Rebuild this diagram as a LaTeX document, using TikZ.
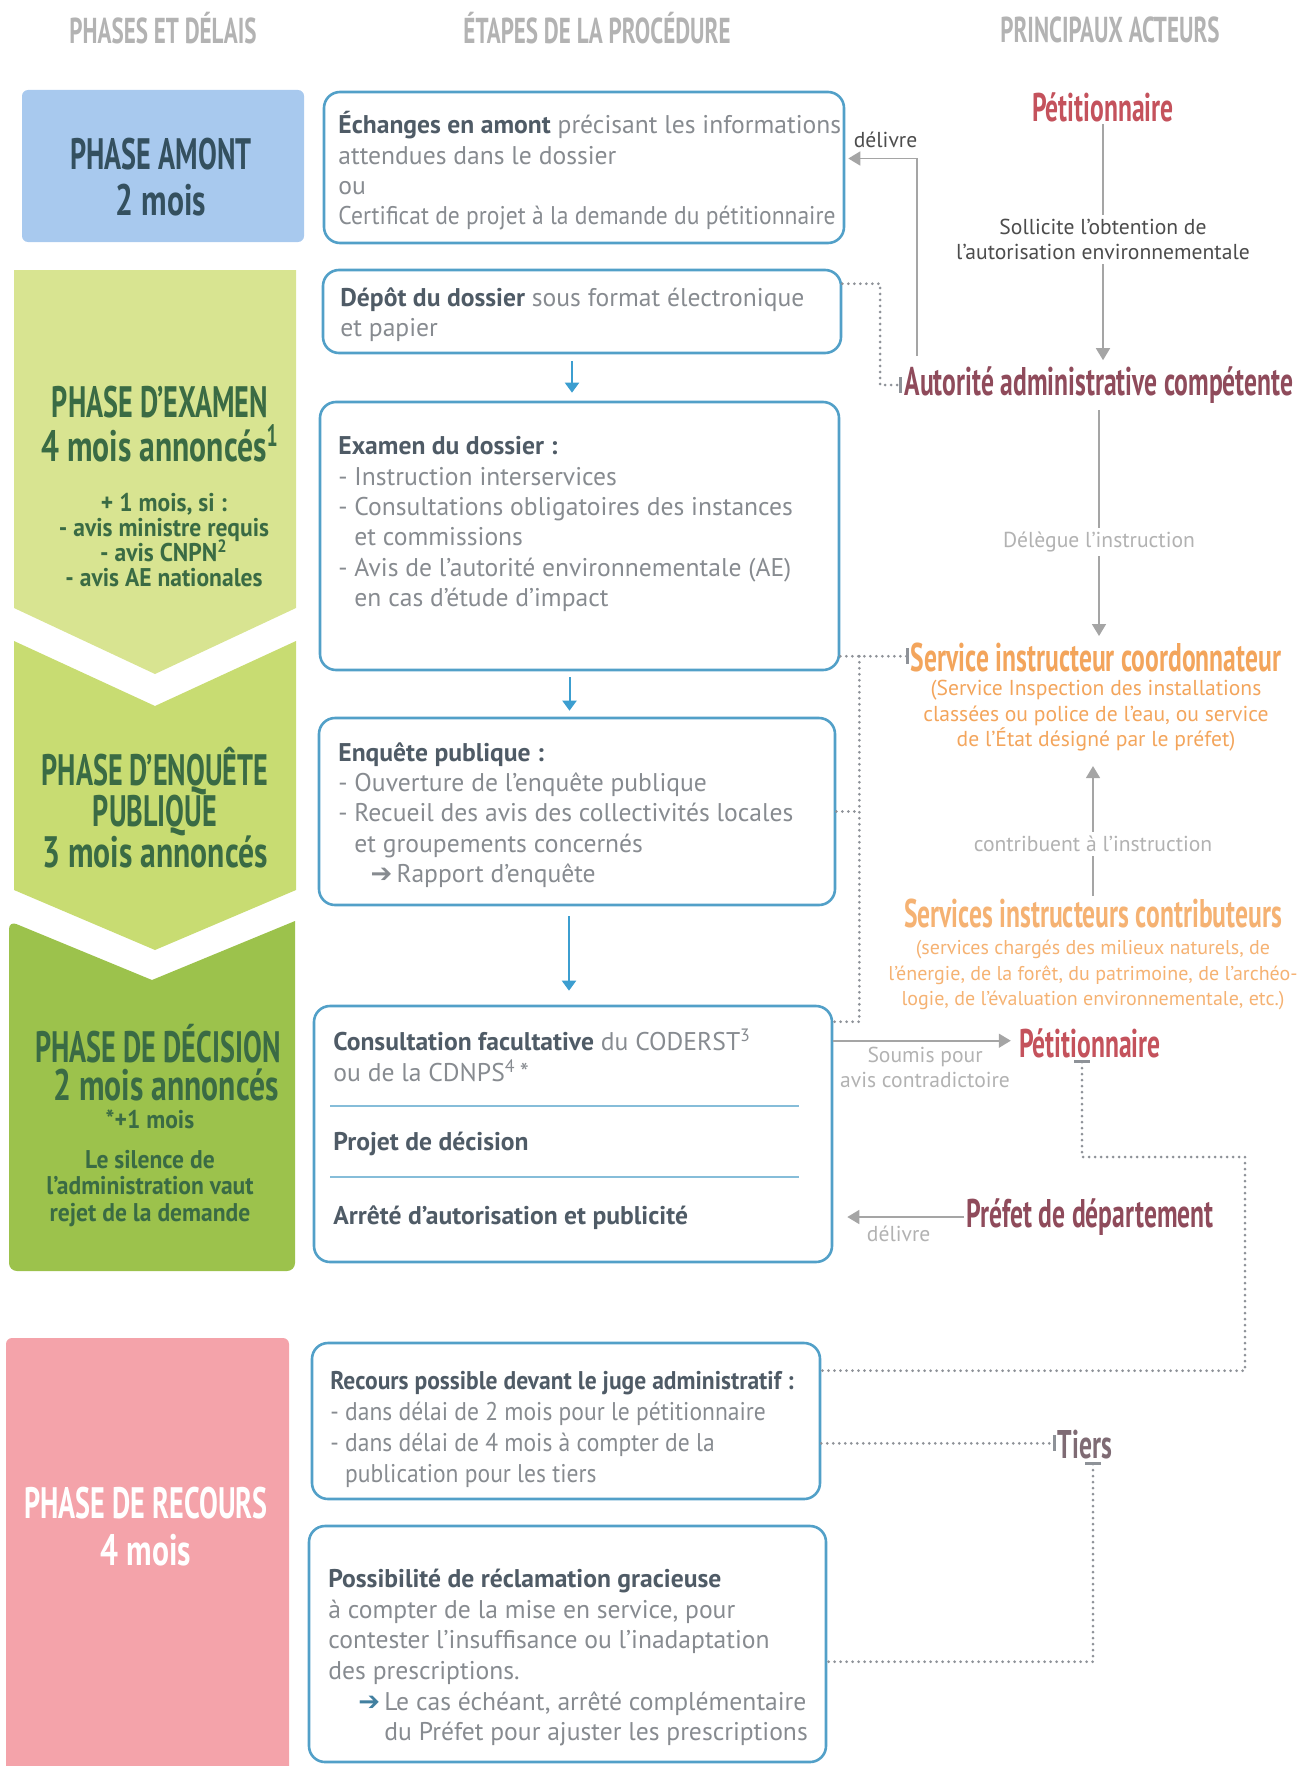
\documentclass[tikz,border=0pt]{standalone}
\usepackage{fontspec}
\setmainfont{PT Sans}
\newfontfamily\condfont[FakeStretch=0.64]{PT Sans}
\newfontfamily\condwide[FakeStretch=0.72]{PT Sans}
\newfontfamily\semicond[FakeStretch=0.92]{PT Sans}
\newfontfamily\symfont{DejaVu Sans}
\usepackage{tikz}
\usetikzlibrary{arrows.meta,shapes,calc,fit}
\usetikzlibrary{positioning}

\definecolor{headgrey}{HTML}{B3B3B3}
\definecolor{amontblue}{HTML}{A8C9EE}
\definecolor{amonttext}{HTML}{34505F}
\definecolor{examgreen}{HTML}{D8E491}
\definecolor{enqgreen}{HTML}{C8DC72}
\definecolor{decgreen}{HTML}{9CC24C}
\definecolor{greentext}{HTML}{3A6B44}
\definecolor{recpink}{HTML}{F4A3AA}
\definecolor{boxblue}{HTML}{52A0C8}
\definecolor{arrowblue}{HTML}{3C9ED0}
\definecolor{txtgrey}{HTML}{878B90}
\definecolor{headdark}{HTML}{4F5B66}
\definecolor{petred}{HTML}{C4525C}
\definecolor{maroon}{HTML}{8F4B5B}
\definecolor{servorange}{HTML}{F3A55C}
\definecolor{lightorange}{HTML}{F5B273}
\definecolor{linegrey}{HTML}{A5A5A5}
\definecolor{dotgrey}{HTML}{8E9298}
\definecolor{labelgrey}{HTML}{B2B2B2}
\definecolor{tiersgrey}{HTML}{7F6B74}

\begin{document}
\begin{tikzpicture}[x=0.5pt,y=-0.5pt,
  stepbox/.style={draw=boxblue, line width=1.3pt, rounded corners=8pt, inner sep=0pt},
  boxtext/.style={anchor=north west, inner sep=0pt, align=left, text=txtgrey,
    font=\fontsize{12.8}{15.2}\selectfont, execute at begin node=\strut},
  phasetitle/.style={align=center, inner sep=0pt, font=\condfont\bfseries\fontsize{22}{#1}\selectfont,
    execute at begin node={\lineskiplimit=-40pt}},
  phasenote/.style={align=center, inner sep=0pt, font=\semicond\bfseries\fontsize{12.8}{#1}\selectfont,
    execute at begin node={\lineskiplimit=-40pt}},
  colhead/.style={text=headgrey, inner sep=0pt, font=\condfont\bfseries\fontsize{18}{18}\selectfont},
  actor/.style={inner sep=1pt, font=\condfont\bfseries\fontsize{20}{20}\selectfont},
  actornote/.style={align=center, inner sep=0pt, font=\fontsize{10.8}{12.8}\selectfont},
  linklabel/.style={align=center, fill=white, inner sep=2pt, font=\fontsize{10.8}{12.5}\selectfont},
  flowarrow/.style={draw=arrowblue, line width=1pt, -{Triangle[width=7pt,length=5pt]}},
  greyarrow/.style={draw=linegrey, line width=0.8pt, -{Triangle[width=7pt,length=6pt]}},
  dotline/.style={draw=dotgrey, line width=1.5pt, line cap=round, dash pattern=on 0pt off 3pt},
  bartip/.style={-{Bar[width=8pt,line width=1.4pt]}},
  sepline/.style={draw=boxblue!70, line width=0.6pt}
]
\useasboundingbox (0,0) rectangle (1310,1766);

% column heads
\node[colhead] (hphases) at (163,28) {PHASES ET DÉLAIS};
\node[colhead] (hetapes) at (597,28) {ÉTAPES DE LA PROCÉDURE};
\node[colhead] (hacteurs) at (1110,30) {PRINCIPAUX ACTEURS};

% phases
\fill[amontblue, rounded corners=3pt] (22,90) rectangle (304,242);
\fill[examgreen] (14,270) -- (296,270) -- (296,608) -- (155,674) -- (14,608) -- cycle;
\fill[enqgreen] (14,641) -- (155,706) -- (296,641) -- (296,890) -- (155,950) -- (14,890) -- cycle;
\fill[decgreen] (9,921) -- (152,980) -- (295,921) [rounded corners=4pt] -- (295,1271) -- (9,1271) -- cycle;
\fill[recpink, rounded corners=3pt] (6,1338) rectangle (289,1800);

\node[phasetitle=23, text=amonttext] (pamont) at (161,177) {PHASE AMONT\\{\condwide 2 mois}};
\node[phasetitle=22, text=greentext] (pexamen) at (160,424) {PHASE D’EXAMEN\\{\condwide 4 mois annoncés}\textsuperscript{1}};
\node[phasenote=12.5, text=greentext] (pexamennote) at (164,540) {+ 1 mois, si :\\- avis ministre requis\\- avis CNPN\textsuperscript{2}\\- avis AE nationales};
\node[phasetitle=20.5, text=greentext] (penquete) at (155,808) {PHASE D’ENQUÊTE\\PUBLIQUE\\{\condwide 3 mois annoncés}};
\node[phasetitle=19, text=greentext] (pdecision) at (158,1063) {PHASE DE DÉCISION\\\hspace*{8pt}{\condwide 2 mois annoncés}};
\node[phasenote=13.2, text=greentext] (pdecisionnote) at (150,1168) {*+1 mois\\[7pt]Le silence de\\l’administration vaut\\rejet de la demande};
\node[phasetitle=23.5, text=white] (precours) at (146,1527) {PHASE DE RECOURS\\{\condwide 4 mois}};

% steps
\node[stepbox, fit={(324,92) (844,243)}] (echanges) {};
\node[boxtext] (echangestxt) at (338,111) {\textcolor{headdark}{\textbf{Échanges en amont}} précisant les informations\\attendues dans le dossier\\ou\\{\semicond Certificat de projet à la demande du pétitionnaire}};

\node[stepbox, fit={(323,270) (841,353)}] (depot) {};
\node[boxtext] (depottxt) at (340,287) {\textcolor{headdark}{\textbf{Dépôt du dossier}} sous format électronique\\et papier};

\node[stepbox, fit={(320,402) (839,670)}] (examen) {};
\node[boxtext] (examentxt) at (338,436) {\textcolor{headdark}{\textbf{Examen du dossier :}}\\- Instruction interservices\\- Consultations obligatoires des instances\\\hphantom{- }et commissions\\- Avis de l’autorité environnementale (AE)\\\hphantom{- }en cas d’étude d’impact};

\node[stepbox, fit={(319,718) (835,905)}] (enquete) {};
\node[boxtext] (enquetetxt) at (338,742) {\textcolor{headdark}{\textbf{Enquête publique :}}\\- Ouverture de l’enquête publique\\- Recueil des avis des collectivités locales\\\hphantom{- }et groupements concernés\\\hphantom{- - }{\symfont\fontsize{13}{15}\selectfont ➔}\,Rapport d’enquête};

\node[stepbox, fit={(314,1006) (832,1262)}] (decision) {};
\node[boxtext] (consult) at (333,1029) {\textcolor{headdark}{\textbf{Consultation facultative}} du CODERST\textsuperscript{3}\\ou de la CDNPS\textsuperscript{4}\,*};
\draw[sepline] (330,1106) -- (799,1106);
\node[boxtext, text=headdark, font=\bfseries\fontsize{12.8}{15.2}\selectfont] (projet) at (333,1129) {Projet de décision};
\draw[sepline] (330,1177) -- (799,1177);
\node[boxtext, text=headdark, font=\bfseries\fontsize{12.8}{15.2}\selectfont] (arrete) at (333,1203) {Arrêté d’autorisation et publicité};

\node[stepbox, fit={(312,1343) (820,1499)}] (recours) {};
\node[boxtext, font=\semicond\fontsize{12.8}{15.4}\selectfont] (recourstxt) at (330,1371) {\textcolor{headdark}{\textbf{Recours possible devant le juge administratif :}}\\- dans délai de 2 mois pour le pétitionnaire\\- dans délai de 4 mois à compter de la\\\hphantom{- }publication pour les tiers};

\node[stepbox, fit={(309,1526) (826,1762)}] (reclam) {};
\node[boxtext] (reclamtxt) at (328,1569) {\textcolor{headdark}{\textbf{Possibilité de réclamation gracieuse}}\\à compter de la mise en service, pour\\contester l’insuffisance ou l’inadaptation\\des prescriptions.};
\node[boxtext] (reclamsuite) at (358,1691) {{\symfont\color{boxblue!80!black}\fontsize{13}{15}\selectfont ➔}\,Le cas échéant, arrêté complémentaire\\\hphantom{\symfont\fontsize{13}{15}\selectfont ➔}\,du Préfet pour ajuster les prescriptions};

\coordinate (fa) at ($(depot.south)+(-10,0)$);
\coordinate (fb) at ($(examen.south)+(-10,0)$);
\coordinate (fc) at ($(enquete.south)+(-8,0)$);
\draw[flowarrow, shorten <=3.5pt, shorten >=4pt] (fa) -- (fa |- examen.north);
\draw[flowarrow, shorten <=3pt, shorten >=3pt] (fb) -- (fb |- enquete.north);
\draw[flowarrow, shorten <=5pt, shorten >=7pt] (fc) -- (fc |- decision.north);

% actors
\node[actor, text=petred] (petA) at (1103,107) {Pétitionnaire};
\node[actor, text=maroon] (autorite) at (1099,385) {Autorité administrative compétente};
\node[actor, text=servorange] (servcoord) at (1096,657) {Service instructeur coordonnateur};
\node[actornote, text=servorange] (servnote) at (1096,716) {(Service Inspection des installations\\classées ou police de l’eau, ou service\\de l’État désigné par le préfet)};
\node[actor, text=lightorange] (contrib) at (1093,913) {Services instructeurs contributeurs};
\node[actornote, text=lightorange, font=\fontsize{10}{12.8}\selectfont] (contribnote) at (1093,975) {(services chargés des milieux naturels, de\\l’énergie, de la forêt, du patrimoine, de l’archéo-\\logie, de l’évaluation environnementale, etc.)};
\node[actor, text=petred] (petB) at (1090,1043) {Pétitionnaire};
\node[actor, text=maroon] (prefet) at (1090,1217) {Préfet de département};
\node[actor, text=tiersgrey] (tiers) at (1085,1445) {Tiers};

% links
\draw[greyarrow, shorten >=2pt] (petA.south) -- node[linklabel, text=black!70, pos=0.48] {Sollicite l’obtention de\\l’autorisation environnementale} (petA.south |- autorite.north);
\draw[greyarrow, shorten <=2pt, shorten >=2pt] (autorite.south) -- node[linklabel, text=labelgrey, pos=0.58] {Délègue l’instruction} (autorite.south |- servcoord.north);
\draw[greyarrow, shorten >=7pt] (contrib.north) -- node[linklabel, text=labelgrey, pos=0.36] {contribuent à l’instruction} (contrib.north |- servnote.south);
\coordinate (echin) at ($(echanges.east)+(0,-9)$);
\draw[greyarrow, shorten >=1.5pt] ($(autorite.north west)+(15,-8)$) |- node[linklabel, text=black!70, pos=0.72, above=3pt, fill=none] {délivre} (echin);
\coordinate (decout) at ($(decision.north east)+(0,36)$);
\draw[greyarrow, shorten >=3pt] (decout) -- node[linklabel, text=labelgrey, below=1pt, fill=none] {Soumis pour\\avis contradictoire} (decout -| petB.west);
\draw[greyarrow, shorten >=7pt] (prefet.west) -- node[linklabel, text=labelgrey, below=2pt, fill=none] {délivre} (prefet.west -| decision.east);

\coordinate (exout) at ($(examen.south east)+(0,-15)$);
\coordinate (exdrop) at ($(exout)+(19,0)$);
\coordinate (decin) at ($(decision.north east)+(0,17)$);
\coordinate (recin) at ($(recours.north east)+(0,29)$);
\coordinate (recout) at ($(recours.south east)+(0,-57)$);
\coordinate (reclin) at ($(reclam.north east)+(0,137)$);
\draw[dotline, bartip] ($(depot.north east)+(0,15)$) -| ($(autorite.west)+(-22,0)$) -- (autorite.west);
\draw[dotline, bartip] (exout) -- (exout -| servcoord.west);
\draw[dotline] (exdrop) |- (decin);
\draw[dotline] (enquete.east) -- (enquete.east -| exdrop);
\draw[dotline, {Bar[width=8pt,line width=1.4pt]}-] ($(petB.south)+(-8,0)$) |- (1245,1157) |- (recin);
\draw[dotline, bartip] (recout) -- (recout -| tiers.west);
\draw[dotline, {Bar[width=8pt,line width=1.4pt]}-] ($(tiers.south)+(8,0)$) |- (reclin);
\end{tikzpicture}
\end{document}
